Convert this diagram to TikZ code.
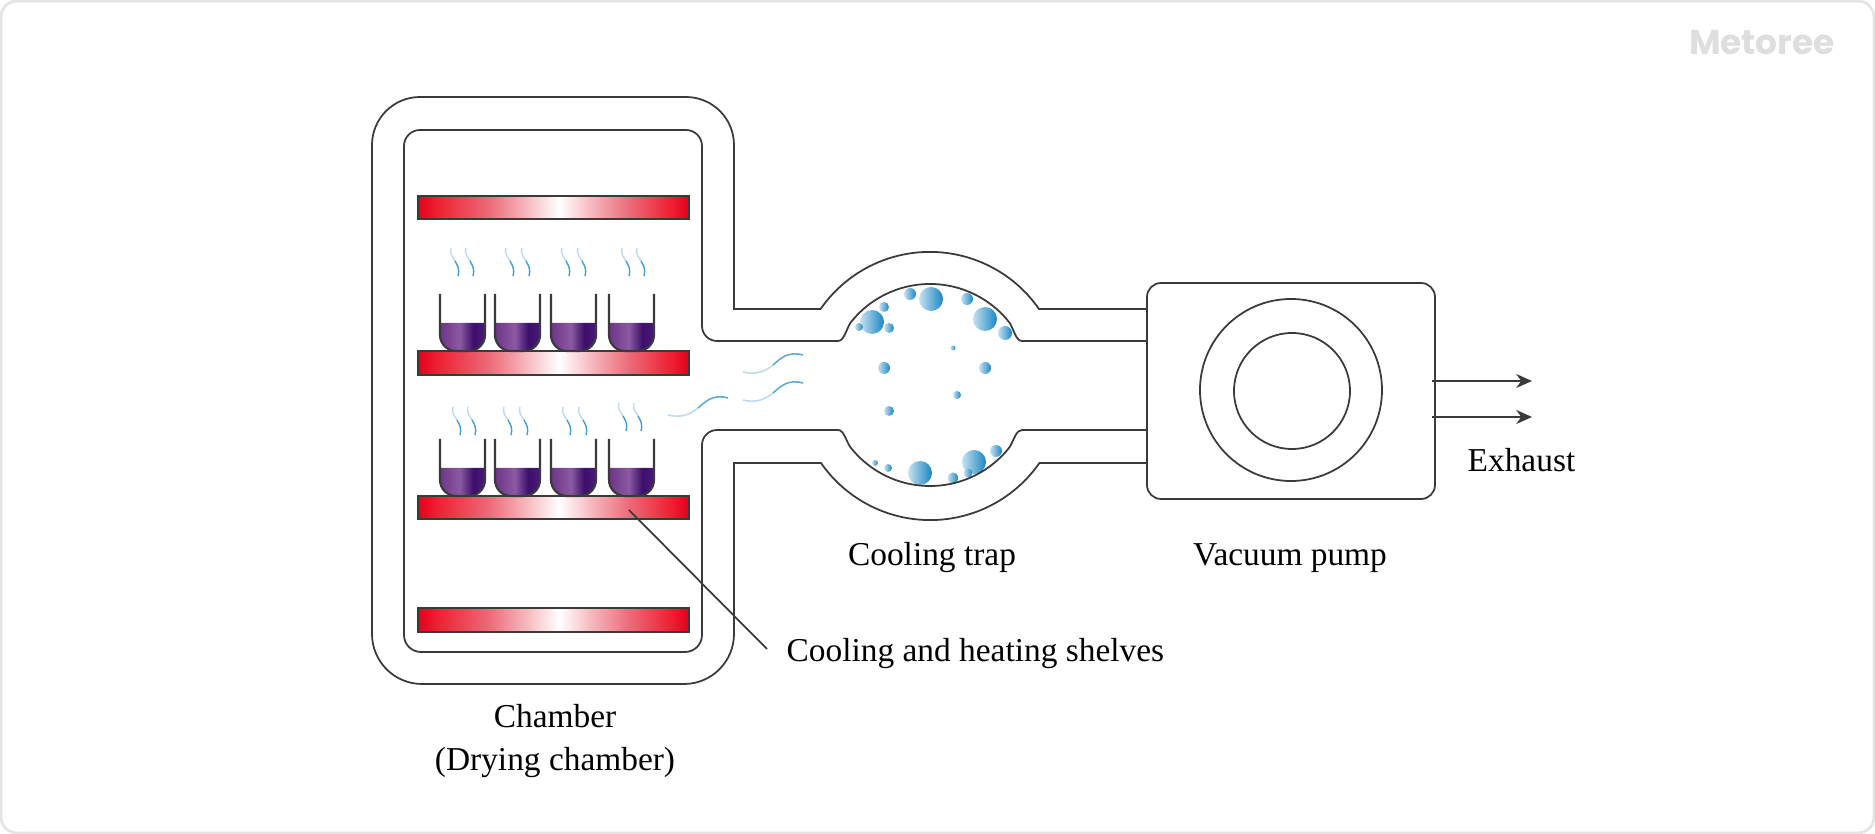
\documentclass[tikz,border=0pt]{standalone}
\usepackage{fontspec}
\setmainfont{Liberation Serif}
\newfontfamily\logofont{Poppins}
\usetikzlibrary{arrows.meta}
\definecolor{wallcol}{HTML}{3A3A3A}
\definecolor{logocol}{HTML}{DEDEDE}
\definecolor{framecol}{HTML}{E4E4E4}
\definecolor{palesteam}{HTML}{BCDCEC}
\definecolor{deepsteam}{HTML}{3F9FCF}
\definecolor{dropcol}{HTML}{1B86C4}
\definecolor{shelfa}{HTML}{E2001A}
\definecolor{shelfb}{HTML}{EE1C30}
\definecolor{shelfc}{HTML}{EC6A78}
\definecolor{shelfd}{HTML}{F6B8BE}
\definecolor{liquida}{HTML}{6E3488}
\definecolor{liquidb}{HTML}{8A5AA2}
\definecolor{liquidc}{HTML}{3C0F6A}
\definecolor{liquidd}{HTML}{4A1A78}
\pgfdeclarehorizontalshading{shelfshade}{100bp}{
  color(0bp)=(shelfa);
  color(25bp)=(shelfa);
  color(28bp)=(shelfb);
  color(38bp)=(shelfc);
  color(45bp)=(shelfd);
  color(51bp)=(white);
  color(57bp)=(shelfd);
  color(64bp)=(shelfc);
  color(72bp)=(shelfb);
  color(75bp)=(shelfa);
  color(100bp)=(shelfa)}
\pgfdeclarehorizontalshading{liquidshade}{100bp}{
  color(0bp)=(liquida);
  color(25bp)=(liquida);
  color(47bp)=(liquidb);
  color(62bp)=(liquidc);
  color(75bp)=(liquidd);
  color(100bp)=(liquidd)}
\tikzset{
  wall/.style={draw=wallcol, line width=0.5pt},
  shelf/.style={draw=wallcol, line width=0.4pt, shading=shelfshade},
  liquid/.style={shading=liquidshade},
  drop/.style={left color=dropcol!25!white, right color=dropcol},
  caption/.style={font=\fontsize{9.5pt}{12pt}\selectfont, inner sep=0pt, align=center},
}
\begin{document}
\begin{tikzpicture}
\useasboundingbox (0,0) rectangle (18.75,8.34);
%frame
\draw[framecol, line width=0.8pt, rounded corners=0.16cm] (0.01,0.01) rectangle (18.74,8.33);
\node[font=\logofont\bfseries\fontsize{9.8pt}{12pt}\selectfont, text=logocol, inner sep=0pt] (logo) at (17.62,7.91) {Metoree};

%trap drops
\begin{scope}
\clip (9.30,4.49) circle (1.01);
\foreach \x/\y/\r in {8.72/5.12/.12, 8.59/5.07/.04, 8.84/5.27/.05, 8.89/5.06/.05,
    9.10/5.40/.06, 9.31/5.35/.12, 9.67/5.35/.06, 9.85/5.15/.12, 10.05/5.01/.07,
    9.53/4.86/.025, 8.84/4.66/.06, 9.85/4.66/.06, 9.57/4.39/.04, 8.89/4.23/.05,
    9.96/3.83/.06, 9.74/3.72/.12, 9.20/3.61/.12, 9.53/3.56/.055, 9.68/3.61/.045,
    8.88/3.66/.04, 8.75/3.71/.03}
  \shade[drop] (\x,\y) circle (\r);
\end{scope}

%chamber and duct, outer wall
\draw[wall] (11.47,5.25) -- (10.39,5.25)
  arc[start angle=34.8, end angle=145.2, radius=1.33]
  -- (7.34,5.25) -- (7.34,6.89)
  arc[start angle=0, end angle=90, radius=0.48]
  -- (4.20,7.37)
  arc[start angle=90, end angle=180, radius=0.48]
  -- (3.72,2.00)
  arc[start angle=180, end angle=270, radius=0.50]
  -- (6.84,1.50)
  arc[start angle=270, end angle=360, radius=0.50]
  -- (7.34,3.71) -- (8.21,3.71)
  arc[start angle=214.8, end angle=325.2, radius=1.33]
  -- (11.47,3.71);

%chamber and duct, inner wall
\draw[wall] (11.47,4.93) -- (10.22,4.93)
  .. controls (10.16,4.93) and (10.14,5.04) .. (10.096,5.112)
  arc[start angle=38, end angle=142, radius=1.01]
  .. controls (8.46,5.04) and (8.44,4.93) .. (8.38,4.93)
  -- (7.17,4.93)
  arc[start angle=270, end angle=180, radius=0.15]
  -- (7.02,6.88)
  arc[start angle=0, end angle=90, radius=0.16]
  -- (4.20,7.04)
  arc[start angle=90, end angle=180, radius=0.16]
  -- (4.04,1.99)
  arc[start angle=180, end angle=270, radius=0.17]
  -- (6.85,1.82)
  arc[start angle=270, end angle=360, radius=0.17]
  -- (7.02,3.89)
  arc[start angle=180, end angle=90, radius=0.15]
  -- (8.38,4.04)
  .. controls (8.44,4.04) and (8.46,3.93) .. (8.504,3.868)
  arc[start angle=218, end angle=322, radius=1.01]
  .. controls (10.14,3.94) and (10.16,4.04) .. (10.22,4.04)
  -- (11.47,4.04);

%shelves
\foreach \ya/\yb in {6.15/6.38, 4.59/4.83, 3.15/3.38, 2.02/2.26}
  \path[shelf] (4.18,\ya) rectangle (6.89,\yb);

%vials
\foreach \yb in {4.83, 3.38} {
  \foreach \x in {4.40, 4.95, 5.51, 6.09} {
    \begin{scope}[shift={(\x,\yb)}]
      \path[liquid] (0,0.28) -- (0,0.16) arc[start angle=180, end angle=270, radius=0.16]
        -- (0.29,0) arc[start angle=270, end angle=360, radius=0.16] -- (0.45,0.28) -- cycle;
      \draw[wall, line width=0.6pt] (0,0.57) -- (0,0.16) arc[start angle=180, end angle=270, radius=0.16]
        -- (0.29,0) arc[start angle=270, end angle=360, radius=0.16] -- (0.45,0.57);
    \end{scope}
  }
}

%steam above the vials
\foreach \x/\y in {4.51/5.86, 4.66/5.86, 5.06/5.86, 5.22/5.86, 5.62/5.86, 5.78/5.86, 6.22/5.86, 6.37/5.86,
    4.53/4.27, 4.68/4.27, 5.04/4.27, 5.20/4.27, 5.63/4.27, 5.79/4.27, 6.19/4.31, 6.34/4.31} {
  \begin{scope}[shift={(\x,\y)}, line width=0.4pt]
    \draw[palesteam] (0,0) .. controls (-0.02,-0.07) and (0.03,-0.10) .. (0.04,-0.13);
    \draw[deepsteam] (0.04,-0.13) .. controls (0.06,-0.17) and (0.09,-0.20) .. (0.07,-0.28);
  \end{scope}
}

%steam in the duct
\foreach \x/\y in {6.68/4.19, 7.43/4.34, 7.43/4.62} {
  \begin{scope}[shift={(\x,\y)}, line width=0.45pt]
    \draw[palesteam] (0,0) .. controls (0.12,-0.03) and (0.22,0) .. (0.30,0.07);
    \draw[deepsteam!85!white] (0.30,0.07) .. controls (0.38,0.14) and (0.45,0.21) .. (0.60,0.17);
  \end{scope}
}

%pump
\draw[wall, rounded corners=0.14cm] (11.47,3.35) rectangle (14.35,5.51);
\draw[wall] (12.91,4.44) circle (0.91);
\draw[wall] (12.92,4.43) circle (0.58);

%exhaust arrows
\coordinate (ex1a) at (14.32,4.53);
\coordinate (ex1b) at (15.32,4.53);
\coordinate (ex2a) at (14.32,4.17);
\coordinate (ex2b) at (15.32,4.17);
\draw[wallcol, line width=0.5pt, -{Stealth[length=4.5pt, width=4pt]}] (ex1a) -- (ex1b);
\draw[wallcol, line width=0.5pt, -{Stealth[length=4.5pt, width=4pt]}] (ex2a) -- (ex2b);

%labels
\node[caption] (chamberlabel) at (5.55,0.93) {Chamber\\(Drying chamber)};
\node[caption] (traplabel) at (9.32,2.76) {Cooling trap};
\node[caption] (pumplabel) at (12.90,2.76) {Vacuum pump};
\node[caption, anchor=west] (exhaustlabel) at (14.67,3.74) {Exhaust};
\node[caption, anchor=west, inner xsep=0.19cm] (shelflabel) at (7.67,1.80) {Cooling and heating shelves};
\coordinate (shelftip) at (6.29,3.24);
\draw[wallcol, line width=0.5pt] (shelftip) -- ([yshift=0.05cm]shelflabel.west);
\end{tikzpicture}
\end{document}
